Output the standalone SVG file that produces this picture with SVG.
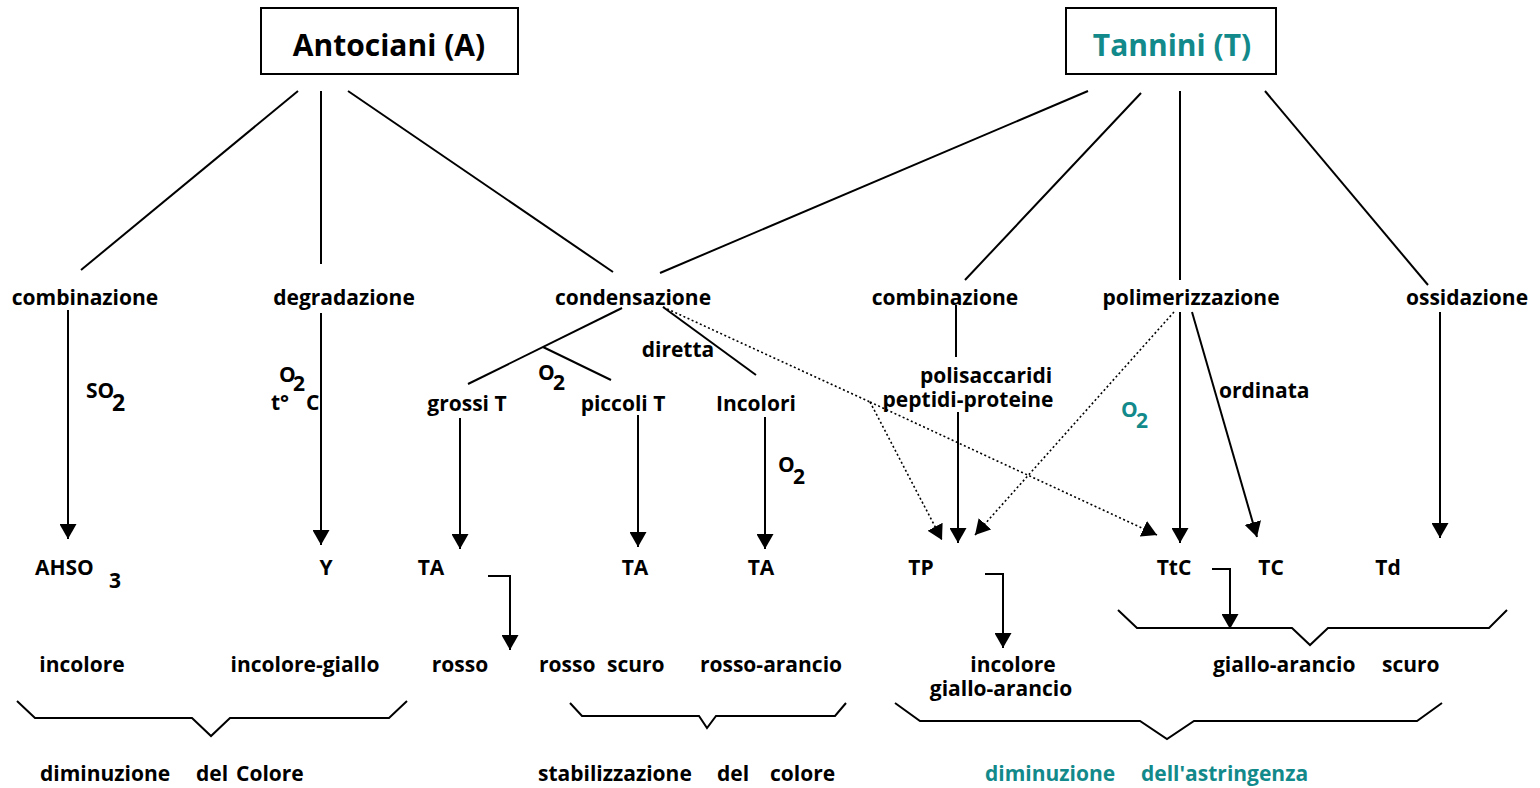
<svg xmlns="http://www.w3.org/2000/svg" width="1540" height="788" viewBox="0 0 1540 788">
<style>
text{font-family:"Open Sans","Liberation Sans",sans-serif;font-weight:700;font-size:21px;fill:#000}
.t{fill:#12898a}
.title{font-size:30px}
.c{text-anchor:middle}
.ln{stroke:#000;stroke-width:2;fill:none}
.ar{stroke:#000;stroke-width:2;fill:none;marker-end:url(#ah)}
.dt{stroke:#000;stroke-width:1.6;fill:none;stroke-dasharray:2 2.5}
.dta{stroke:#000;stroke-width:1.6;fill:none;stroke-dasharray:2 2.5;marker-end:url(#ah)}
.box{fill:#fff;stroke:#000;stroke-width:2}
</style>
<defs>
<marker id="ah" markerUnits="userSpaceOnUse" markerWidth="15" markerHeight="17" refX="15" refY="8.5" orient="auto">
<path d="M0,0 L15,8.5 L0,17 z" fill="#000"/>
</marker>
</defs>
<rect width="1540" height="788" fill="#fff"/>

<g id="connectors">
<line class="ln" x1="298" y1="91" x2="81" y2="270"/>
<line class="ln" x1="321" y1="91" x2="321" y2="264"/>
<line class="ln" x1="348" y1="91" x2="613" y2="272"/>
<line class="ln" x1="1088" y1="91" x2="660" y2="273"/>
<line class="ln" x1="1141" y1="93" x2="965" y2="280"/>
<line class="ln" x1="1180" y1="91" x2="1180" y2="280"/>
<line class="ln" x1="1265" y1="91" x2="1428" y2="285"/>
<line class="ar" x1="68" y1="310" x2="68" y2="539"/>
<line class="ar" x1="321" y1="313" x2="321" y2="545"/>
<line class="ln" x1="622" y1="308" x2="468" y2="384"/>
<line class="ln" x1="543" y1="347" x2="611" y2="380"/>
<line class="ln" x1="663" y1="307" x2="756" y2="375"/>
<line class="ar" x1="460" y1="418" x2="460" y2="549"/>
<line class="ar" x1="638" y1="415" x2="638" y2="547"/>
<line class="ar" x1="765" y1="417" x2="765" y2="549"/>
<polyline class="ar" points="488,576 510,576 510,650"/>
<line class="ln" x1="956" y1="305" x2="956" y2="357"/>
<line class="ar" x1="958" y1="412" x2="958" y2="543"/>
<line class="ar" x1="1180" y1="312" x2="1180" y2="543"/>
<line class="ar" x1="1192" y1="312" x2="1257" y2="537"/>
<line class="ar" x1="1440" y1="312" x2="1440" y2="538"/>
<polyline class="dt" points="663,307 870,402"/>
<line class="dta" x1="870" y1="402" x2="942" y2="540"/>
<line class="dta" x1="870" y1="402" x2="1157" y2="535"/>
<line class="dta" x1="1174" y1="312" x2="975" y2="535"/>
<polyline class="ar" points="985,574 1003,574 1003,648"/>
<polyline class="ar" points="1212,569 1230,569 1230,629"/>
<polyline class="ln" points="17,701 35,718 192,718 211,736 230,718 389,718 407,701"/>
<polyline class="ln" points="570,703 582,716 699,716 707,728 716,716 835,716 846,703"/>
<polyline class="ln" points="895,703 920,721 1140,721 1167,739 1194,721 1417,721 1442,703"/>
<polyline class="ln" points="1118,610 1137,628 1292,628 1310,645 1328,628 1489,628 1507,610"/>
</g>

<g id="antociani"><rect class="box" x="261" y="8" width="257" height="66"/><text class="title c" x="389" y="56">Antociani (A)</text></g>
<g id="tannini"><rect class="box" x="1066" y="8" width="210" height="66"/><text class="title c t" x="1172" y="56">Tannini (T)</text></g>

<g id="a-combinazione"><text class="c" x="85" y="305">combinazione</text></g>
<g id="a-degradazione"><text class="c" x="344" y="305">degradazione</text></g>
<g id="condensazione"><text class="c" x="633" y="305">condensazione</text></g>
<g id="t-combinazione"><text class="c" x="945" y="305">combinazione</text></g>
<g id="polimerizzazione"><text class="c" x="1191" y="305">polimerizzazione</text></g>
<g id="ossidazione"><text class="c" x="1467" y="305">ossidazione</text></g>

<g id="labels">
<text x="86" y="398">SO</text><text x="112" y="411" style="font-size:23px">2</text>
<text x="279" y="382">O</text><text x="293" y="391">2</text>
<text x="271" y="410">t°</text><text x="306" y="410">C</text>
<text class="c" x="678" y="357">diretta</text>
<text x="538" y="380">O</text><text x="553" y="390">2</text>
<text x="778" y="472">O</text><text x="793" y="484">2</text>
<text class="c" x="986" y="383">polisaccaridi</text>
<text class="c" x="968" y="407">peptidi-proteine</text>
<text x="1219" y="398">ordinata</text>
<text class="t" x="1121" y="417">O</text><text class="t" x="1136" y="428">2</text>
</g>

<g id="grossi"><text class="c" x="467" y="411">grossi T</text></g>
<g id="piccoli"><text class="c" x="623" y="411">piccoli T</text></g>
<g id="incolori"><text class="c" x="756" y="411">Incolori</text></g>

<g id="ahso3"><text x="35" y="575">AHSO</text><text x="109" y="588">3</text></g>
<g id="y"><text class="c" x="326" y="575">Y</text></g>
<g id="ta1"><text class="c" x="431" y="575">TA</text></g>
<g id="ta2"><text class="c" x="635" y="575">TA</text></g>
<g id="ta3"><text class="c" x="761" y="575">TA</text></g>
<g id="tp"><text class="c" x="921" y="575">TP</text></g>
<g id="ttc"><text class="c" x="1174" y="575">TtC</text></g>
<g id="tc"><text class="c" x="1271" y="575">TC</text></g>
<g id="td"><text class="c" x="1388" y="575">Td</text></g>

<g id="colori">
<text class="c" x="82" y="672">incolore</text>
<text class="c" x="305" y="672">incolore-giallo</text>
<text class="c" x="460" y="672">rosso</text>
<text x="539" y="672">rosso<tspan x="607">scuro</tspan></text>
<text class="c" x="771" y="672">rosso-arancio</text>
<text class="c" x="1013" y="672">incolore</text>
<text class="c" x="1001" y="696">giallo-arancio</text>
<text x="1213" y="672">giallo-arancio<tspan x="1382">scuro</tspan></text>
</g>

<g id="conclusioni">
<text x="40" y="781">diminuzione<tspan x="196">del</tspan><tspan x="236">Colore</tspan></text>
<text x="538" y="781">stabilizzazione<tspan x="717">del</tspan><tspan x="770">colore</tspan></text>
<text class="t" x="985" y="781">diminuzione<tspan x="1141">dell'astringenza</tspan></text>
</g>
</svg>
